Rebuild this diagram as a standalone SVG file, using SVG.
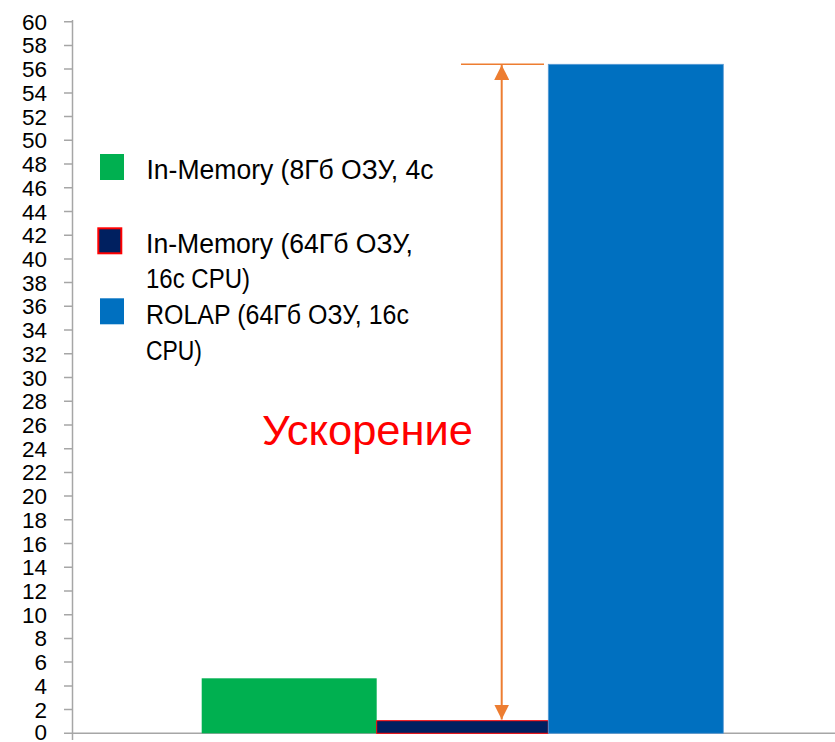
<svg xmlns="http://www.w3.org/2000/svg" width="835" height="742" viewBox="0 0 835 742">
<style>
.tl{font-family:"Liberation Sans",Arial,sans-serif;font-size:22.5px;fill:#000;text-anchor:end}
.lg{font-family:"Liberation Sans",Arial,sans-serif;font-size:27px;fill:#000}
.ax{stroke:#a6a6a6;stroke-width:1.5;fill:none}
.or{stroke:#ed7d31;fill:none}
</style>
<defs>
<marker id="ah" viewBox="0 0 10 10" refX="10" refY="5" markerWidth="7.5" markerHeight="7.5" markerUnits="strokeWidth" orient="auto-start-reverse">
<path d="M0,0 L10,5 L0,10 z" fill="#ed7d31"/>
</marker>
</defs>
<rect width="835" height="742" fill="#fff"/>
<g id="axes">
<line class="ax" x1="72.5" y1="20" x2="72.5" y2="740"/>
<line class="ax" x1="64" y1="733.3" x2="835" y2="733.3"/>
<path class="ax" d="M64,709.6h8.5M64,685.9h8.5M64,662.1h8.5M64,638.4h8.5M64,614.7h8.5M64,591h8.5M64,567.3h8.5M64,543.5h8.5M64,519.8h8.5M64,496.1h8.5M64,472.4h8.5M64,448.7h8.5M64,424.9h8.5M64,401.2h8.5M64,377.5h8.5M64,353.8h8.5M64,330.1h8.5M64,306.3h8.5M64,282.6h8.5M64,258.9h8.5M64,235.2h8.5M64,211.5h8.5M64,187.7h8.5M64,164h8.5M64,140.3h8.5M64,116.6h8.5M64,92.9h8.5M64,69.1h8.5M64,45.4h8.5M64,21.7h8.5"/>
</g>
<g id="ticklabels">
<text class="tl" x="47" y="739.6">0</text>
<text class="tl" x="47" y="717.6">2</text>
<text class="tl" x="47" y="693.9">4</text>
<text class="tl" x="47" y="670.1">6</text>
<text class="tl" x="47" y="646.4">8</text>
<text class="tl" x="47" y="622.7">10</text>
<text class="tl" x="47" y="599">12</text>
<text class="tl" x="47" y="575.3">14</text>
<text class="tl" x="47" y="551.5">16</text>
<text class="tl" x="47" y="527.8">18</text>
<text class="tl" x="47" y="504.1">20</text>
<text class="tl" x="47" y="480.4">22</text>
<text class="tl" x="47" y="456.7">24</text>
<text class="tl" x="47" y="432.9">26</text>
<text class="tl" x="47" y="409.2">28</text>
<text class="tl" x="47" y="385.5">30</text>
<text class="tl" x="47" y="361.8">32</text>
<text class="tl" x="47" y="338.1">34</text>
<text class="tl" x="47" y="314.3">36</text>
<text class="tl" x="47" y="290.6">38</text>
<text class="tl" x="47" y="266.9">40</text>
<text class="tl" x="47" y="243.2">42</text>
<text class="tl" x="47" y="219.5">44</text>
<text class="tl" x="47" y="195.7">46</text>
<text class="tl" x="47" y="172">48</text>
<text class="tl" x="47" y="148.3">50</text>
<text class="tl" x="47" y="124.6">52</text>
<text class="tl" x="47" y="100.9">54</text>
<text class="tl" x="47" y="77.1">56</text>
<text class="tl" x="47" y="53.4">58</text>
<text class="tl" x="47" y="29.7">60</text>
</g>
<g id="bar-inmem8">
<rect x="201.7" y="678.3" width="175" height="55" fill="#00b050"/>
</g>
<g id="bar-inmem64">
<rect x="376.7" y="720.7" width="171.6" height="12.6" fill="#002060" stroke="#ff0000" stroke-width="1"/>
</g>
<g id="bar-rolap">
<rect x="548.3" y="64.3" width="175" height="669" fill="#0070c0" stroke="#5b9bd5" stroke-width="0.8"/>
</g>
<g id="connectors">
<line class="or" x1="461" y1="64.3" x2="544" y2="64.3" stroke-width="1.5"/>
<line class="or" x1="501.7" y1="65" x2="501.7" y2="719.5" stroke-width="2" marker-start="url(#ah)" marker-end="url(#ah)"/>
</g>
<g id="legend">
<rect x="100" y="154" width="24" height="26" fill="#00b050"/>
<text class="lg" x="146.5" y="179" textLength="287" lengthAdjust="spacingAndGlyphs">In-Memory (8Гб ОЗУ, 4c</text>
<rect x="98.3" y="228.3" width="23" height="25" fill="#002060" stroke="#ff0000" stroke-width="2"/>
<text class="lg" x="146" y="253.3" textLength="267" lengthAdjust="spacingAndGlyphs">In-Memory (64Гб ОЗУ,</text>
<text class="lg" x="146" y="288.3" textLength="104" lengthAdjust="spacingAndGlyphs">16c CPU)</text>
<rect x="100" y="298.3" width="24" height="26" fill="#0070c0"/>
<text class="lg" x="146" y="324.3" textLength="263" lengthAdjust="spacingAndGlyphs">ROLAP (64Гб ОЗУ, 16c</text>
<text class="lg" x="146" y="360" textLength="56" lengthAdjust="spacingAndGlyphs">CPU)</text>
</g>
<g id="label-speedup">
<text x="262" y="445" font-family="Liberation Sans,Arial,sans-serif" font-size="42" fill="#ff0000" textLength="211" lengthAdjust="spacingAndGlyphs">Ускорение</text>
</g>
</svg>
